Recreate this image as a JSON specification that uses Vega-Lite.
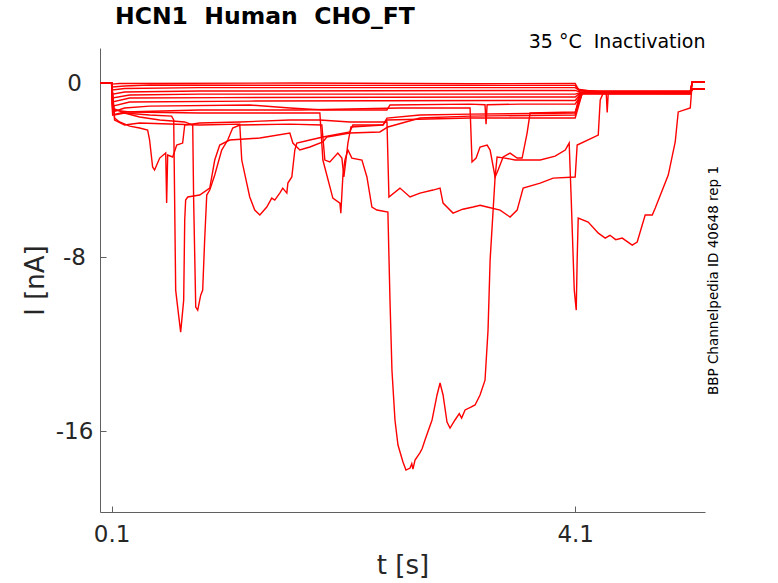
{
  "$schema": "https://vega.github.io/schema/vega-lite/v6.json",
  "width": 605,
  "height": 464,
  "autosize": {"type": "none"},
  "padding": {"left": 100, "top": 48, "right": 73, "bottom": 71},
  "background": "white",
  "title": {
    "text": "HCN1\u00a0\u00a0Human\u00a0\u00a0CHO_FT",
    "anchor": "start",
    "frame": "group",
    "dx": 15,
    "font": "DejaVu Sans",
    "fontSize": 23.5,
    "fontWeight": "bold",
    "color": "black",
    "offset": 4
  },
  "config": {
    "view": {"stroke": null},
    "axis": {"grid": false, "labelFont": "DejaVu Sans", "titleFont": "DejaVu Sans", "titleFontWeight": "normal"}
  },
  "data": {
    "values": [
      {"trace": "F1", "t": 0, "i": 0}, {"trace": "F1", "t": 0.1, "i": 0}, {"trace": "F1", "t": 0.104, "i": -0.05}, {"trace": "F1", "t": 0.169, "i": -0.02}, {"trace": "F1", "t": 1.724, "i": 0}, {"trace": "F1", "t": 3.2, "i": -0.03}, {"trace": "F1", "t": 4.1, "i": -0.02}, {"trace": "F1", "t": 4.126, "i": -0.28}, {"trace": "F1", "t": 4.23, "i": -0.37}, {"trace": "F1", "t": 5.093, "i": -0.37}, {"trace": "F1", "t": 5.11, "i": 0.05}, {"trace": "F1", "t": 5.22, "i": 0.05},

      {"trace": "F2", "t": 0, "i": 0}, {"trace": "F2", "t": 0.1, "i": 0}, {"trace": "F2", "t": 0.109, "i": -0.18}, {"trace": "F2", "t": 0.212, "i": -0.14}, {"trace": "F2", "t": 0.428, "i": -0.09}, {"trace": "F2", "t": 2.2, "i": -0.11}, {"trace": "F2", "t": 4.1, "i": -0.11}, {"trace": "F2", "t": 4.135, "i": -0.32}, {"trace": "F2", "t": 4.316, "i": -0.39}, {"trace": "F2", "t": 5.093, "i": -0.39}, {"trace": "F2", "t": 5.11, "i": 0.05}, {"trace": "F2", "t": 5.22, "i": 0.05},

      {"trace": "F3", "t": 0, "i": 0}, {"trace": "F3", "t": 0.1, "i": 0}, {"trace": "F3", "t": 0.109, "i": -0.32}, {"trace": "F3", "t": 0.212, "i": -0.25}, {"trace": "F3", "t": 0.86, "i": -0.21}, {"trace": "F3", "t": 4.1, "i": -0.21}, {"trace": "F3", "t": 4.143, "i": -0.37}, {"trace": "F3", "t": 4.316, "i": -0.41}, {"trace": "F3", "t": 5.093, "i": -0.41}, {"trace": "F3", "t": 5.11, "i": -0.28}, {"trace": "F3", "t": 5.22, "i": -0.28},

      {"trace": "F4", "t": 0, "i": 0}, {"trace": "F4", "t": 0.1, "i": 0}, {"trace": "F4", "t": 0.109, "i": -0.51}, {"trace": "F4", "t": 0.212, "i": -0.41}, {"trace": "F4", "t": 0.86, "i": -0.37}, {"trace": "F4", "t": 4.1, "i": -0.34}, {"trace": "F4", "t": 4.143, "i": -0.41}, {"trace": "F4", "t": 5.093, "i": -0.44}, {"trace": "F4", "t": 5.11, "i": -0.28}, {"trace": "F4", "t": 5.22, "i": -0.28},

      {"trace": "F5", "t": 0, "i": 0}, {"trace": "F5", "t": 0.1, "i": 0}, {"trace": "F5", "t": 0.109, "i": -0.69}, {"trace": "F5", "t": 0.256, "i": -0.55}, {"trace": "F5", "t": 0.86, "i": -0.51}, {"trace": "F5", "t": 4.1, "i": -0.51}, {"trace": "F5", "t": 4.143, "i": -0.44}, {"trace": "F5", "t": 5.093, "i": -0.44}, {"trace": "F5", "t": 5.11, "i": 0.05}, {"trace": "F5", "t": 5.22, "i": 0.05},

      {"trace": "F6", "t": 0, "i": 0}, {"trace": "F6", "t": 0.1, "i": 0}, {"trace": "F6", "t": 0.109, "i": -0.87}, {"trace": "F6", "t": 0.256, "i": -0.69}, {"trace": "F6", "t": 1.033, "i": -0.67}, {"trace": "F6", "t": 4.1, "i": -0.64}, {"trace": "F6", "t": 4.143, "i": -0.46}, {"trace": "F6", "t": 5.093, "i": -0.46}, {"trace": "F6", "t": 5.11, "i": -0.28}, {"trace": "F6", "t": 5.22, "i": -0.28},

      {"trace": "F7", "t": 0, "i": 0}, {"trace": "F7", "t": 0.1, "i": 0}, {"trace": "F7", "t": 0.109, "i": -1.06}, {"trace": "F7", "t": 0.256, "i": -0.87}, {"trace": "F7", "t": 1.292, "i": -0.83}, {"trace": "F7", "t": 4.1, "i": -0.8}, {"trace": "F7", "t": 4.152, "i": -0.46}, {"trace": "F7", "t": 4.368, "i": -0.48}, {"trace": "F7", "t": 4.376, "i": -1.35}, {"trace": "F7", "t": 4.385, "i": -0.48}, {"trace": "F7", "t": 5.093, "i": -0.48}, {"trace": "F7", "t": 5.11, "i": 0.05}, {"trace": "F7", "t": 5.22, "i": 0.05},

      {"trace": "M1", "t": 0, "i": 0}, {"trace": "M1", "t": 0.1, "i": 0}, {"trace": "M1", "t": 0.109, "i": -1.33}, {"trace": "M1", "t": 0.212, "i": -1.15}, {"trace": "M1", "t": 0.428, "i": -1.06}, {"trace": "M1", "t": 1.292, "i": -1.01}, {"trace": "M1", "t": 1.638, "i": -1.15}, {"trace": "M1", "t": 1.923, "i": -1.24}, {"trace": "M1", "t": 2.476, "i": -1.24}, {"trace": "M1", "t": 2.502, "i": -1.01}, {"trace": "M1", "t": 3.193, "i": -0.97}, {"trace": "M1", "t": 3.322, "i": -1.0}, {"trace": "M1", "t": 3.331, "i": -1.89}, {"trace": "M1", "t": 3.34, "i": -1.0}, {"trace": "M1", "t": 3.625, "i": -0.97}, {"trace": "M1", "t": 4.1, "i": -0.97}, {"trace": "M1", "t": 4.16, "i": -0.46}, {"trace": "M1", "t": 5.093, "i": -0.48}, {"trace": "M1", "t": 5.11, "i": -0.28}, {"trace": "M1", "t": 5.22, "i": -0.28},

      {"trace": "M2", "t": 0, "i": 0}, {"trace": "M2", "t": 0.1, "i": 0}, {"trace": "M2", "t": 0.109, "i": -1.47}, {"trace": "M2", "t": 0.212, "i": -1.33}, {"trace": "M2", "t": 0.86, "i": -1.24}, {"trace": "M2", "t": 1.724, "i": -1.24}, {"trace": "M2", "t": 2.588, "i": -1.15}, {"trace": "M2", "t": 3.193, "i": -1.15}, {"trace": "M2", "t": 3.21, "i": -3.63}, {"trace": "M2", "t": 3.245, "i": -3.45}, {"trace": "M2", "t": 3.279, "i": -2.94}, {"trace": "M2", "t": 3.34, "i": -2.85}, {"trace": "M2", "t": 3.366, "i": -3.08}, {"trace": "M2", "t": 3.409, "i": -4.32}, {"trace": "M2", "t": 3.435, "i": -4.0}, {"trace": "M2", "t": 3.478, "i": -3.4}, {"trace": "M2", "t": 3.538, "i": -3.22}, {"trace": "M2", "t": 3.599, "i": -3.45}, {"trace": "M2", "t": 3.642, "i": -3.45}, {"trace": "M2", "t": 3.685, "i": -2.3}, {"trace": "M2", "t": 3.711, "i": -1.38}, {"trace": "M2", "t": 4.1, "i": -1.33}, {"trace": "M2", "t": 4.16, "i": -0.51}, {"trace": "M2", "t": 5.093, "i": -0.51}, {"trace": "M2", "t": 5.11, "i": -0.28}, {"trace": "M2", "t": 5.22, "i": -0.28},

      {"trace": "E3", "t": 0, "i": 0}, {"trace": "E3", "t": 0.1, "i": 0}, {"trace": "E3", "t": 0.126, "i": -1.61}, {"trace": "E3", "t": 0.169, "i": -1.79}, {"trace": "E3", "t": 0.256, "i": -1.98}, {"trace": "E3", "t": 0.342, "i": -2.07}, {"trace": "E3", "t": 0.411, "i": -2.16}, {"trace": "E3", "t": 0.428, "i": -2.62}, {"trace": "E3", "t": 0.454, "i": -3.86}, {"trace": "E3", "t": 0.471, "i": -4.0}, {"trace": "E3", "t": 0.515, "i": -3.45}, {"trace": "E3", "t": 0.567, "i": -3.22}, {"trace": "E3", "t": 0.575, "i": -5.52}, {"trace": "E3", "t": 0.584, "i": -3.31}, {"trace": "E3", "t": 0.627, "i": -3.4}, {"trace": "E3", "t": 0.662, "i": -2.85}, {"trace": "E3", "t": 0.713, "i": -2.76}, {"trace": "E3", "t": 0.731, "i": -1.93}, {"trace": "E3", "t": 0.86, "i": -1.84}, {"trace": "E3", "t": 1.206, "i": -1.79}, {"trace": "E3", "t": 1.638, "i": -1.7}, {"trace": "E3", "t": 1.897, "i": -1.7}, {"trace": "E3", "t": 2.156, "i": -1.79}, {"trace": "E3", "t": 2.476, "i": -1.79}, {"trace": "E3", "t": 2.493, "i": -5.24}, {"trace": "E3", "t": 2.588, "i": -4.83}, {"trace": "E3", "t": 2.675, "i": -5.24}, {"trace": "E3", "t": 2.761, "i": -5.06}, {"trace": "E3", "t": 2.873, "i": -4.92}, {"trace": "E3", "t": 2.934, "i": -4.83}, {"trace": "E3", "t": 2.96, "i": -5.52}, {"trace": "E3", "t": 3.046, "i": -5.98}, {"trace": "E3", "t": 3.13, "i": -5.8}, {"trace": "E3", "t": 3.219, "i": -5.7}, {"trace": "E3", "t": 3.28, "i": -5.62}, {"trace": "E3", "t": 3.34, "i": -5.7}, {"trace": "E3", "t": 3.452, "i": -5.84}, {"trace": "E3", "t": 3.538, "i": -6.16}, {"trace": "E3", "t": 3.599, "i": -5.84}, {"trace": "E3", "t": 3.651, "i": -4.83}, {"trace": "E3", "t": 3.798, "i": -4.6}, {"trace": "E3", "t": 3.91, "i": -4.37}, {"trace": "E3", "t": 4.1, "i": -4.32}, {"trace": "E3", "t": 4.117, "i": -2.85}, {"trace": "E3", "t": 4.299, "i": -2.39}, {"trace": "E3", "t": 4.316, "i": -0.78}, {"trace": "E3", "t": 4.342, "i": -0.46}, {"trace": "E3", "t": 5.093, "i": -0.46}, {"trace": "E3", "t": 5.11, "i": 0.05}, {"trace": "E3", "t": 5.22, "i": 0.05},

      {"trace": "E4", "t": 0, "i": 0}, {"trace": "E4", "t": 0.1, "i": 0}, {"trace": "E4", "t": 0.126, "i": -1.7}, {"trace": "E4", "t": 0.212, "i": -1.93}, {"trace": "E4", "t": 0.342, "i": -1.84}, {"trace": "E4", "t": 0.86, "i": -1.93}, {"trace": "E4", "t": 1.206, "i": -1.89}, {"trace": "E4", "t": 1.223, "i": -3.54}, {"trace": "E4", "t": 1.266, "i": -4.6}, {"trace": "E4", "t": 1.292, "i": -5.24}, {"trace": "E4", "t": 1.335, "i": -5.84}, {"trace": "E4", "t": 1.379, "i": -6.07}, {"trace": "E4", "t": 1.439, "i": -5.7}, {"trace": "E4", "t": 1.482, "i": -5.29}, {"trace": "E4", "t": 1.508, "i": -5.38}, {"trace": "E4", "t": 1.551, "i": -5.06}, {"trace": "E4", "t": 1.577, "i": -4.83}, {"trace": "E4", "t": 1.612, "i": -5.06}, {"trace": "E4", "t": 1.621, "i": -4.6}, {"trace": "E4", "t": 1.655, "i": -4.32}, {"trace": "E4", "t": 1.681, "i": -3.08}, {"trace": "E4", "t": 1.698, "i": -2.76}, {"trace": "E4", "t": 1.811, "i": -2.62}, {"trace": "E4", "t": 1.923, "i": -2.48}, {"trace": "E4", "t": 2.156, "i": -2.25}, {"trace": "E4", "t": 2.182, "i": -1.93}, {"trace": "E4", "t": 2.441, "i": -1.93}, {"trace": "E4", "t": 2.476, "i": -1.61}, {"trace": "E4", "t": 2.761, "i": -1.47}, {"trace": "E4", "t": 3.193, "i": -1.43}, {"trace": "E4", "t": 4.1, "i": -1.38}, {"trace": "E4", "t": 4.143, "i": -0.46}, {"trace": "E4", "t": 5.093, "i": -0.46}, {"trace": "E4", "t": 5.11, "i": -0.28}, {"trace": "E4", "t": 5.22, "i": -0.28},

      {"trace": "E1", "t": 0, "i": 0}, {"trace": "E1", "t": 0.1, "i": 0}, {"trace": "E1", "t": 0.126, "i": -1.47}, {"trace": "E1", "t": 0.212, "i": -1.38}, {"trace": "E1", "t": 0.428, "i": -1.47}, {"trace": "E1", "t": 0.618, "i": -1.52}, {"trace": "E1", "t": 0.636, "i": -1.7}, {"trace": "E1", "t": 0.653, "i": -9.52}, {"trace": "E1", "t": 0.67, "i": -10.3}, {"trace": "E1", "t": 0.696, "i": -11.45}, {"trace": "E1", "t": 0.722, "i": -9.98}, {"trace": "E1", "t": 0.731, "i": -6.3}, {"trace": "E1", "t": 0.739, "i": -5.38}, {"trace": "E1", "t": 0.757, "i": -5.24}, {"trace": "E1", "t": 0.86, "i": -5.15}, {"trace": "E1", "t": 0.947, "i": -4.83}, {"trace": "E1", "t": 0.99, "i": -3.54}, {"trace": "E1", "t": 1.033, "i": -2.85}, {"trace": "E1", "t": 1.119, "i": -2.62}, {"trace": "E1", "t": 1.379, "i": -2.53}, {"trace": "E1", "t": 1.638, "i": -2.3}, {"trace": "E1", "t": 1.664, "i": -2.76}, {"trace": "E1", "t": 1.724, "i": -3.08}, {"trace": "E1", "t": 1.811, "i": -2.94}, {"trace": "E1", "t": 1.923, "i": -2.71}, {"trace": "E1", "t": 1.957, "i": -2.48}, {"trace": "E1", "t": 2.156, "i": -2.3}, {"trace": "E1", "t": 2.415, "i": -2.25}, {"trace": "E1", "t": 2.484, "i": -2.02}, {"trace": "E1", "t": 2.761, "i": -1.61}, {"trace": "E1", "t": 3.193, "i": -1.52}, {"trace": "E1", "t": 4.1, "i": -1.47}, {"trace": "E1", "t": 4.143, "i": -0.46}, {"trace": "E1", "t": 5.093, "i": -0.46}, {"trace": "E1", "t": 5.11, "i": 0.05}, {"trace": "E1", "t": 5.22, "i": 0.05},

      {"trace": "E2", "t": 0, "i": 0}, {"trace": "E2", "t": 0.1, "i": 0}, {"trace": "E2", "t": 0.109, "i": -1.15}, {"trace": "E2", "t": 0.212, "i": -1.38}, {"trace": "E2", "t": 0.342, "i": -1.56}, {"trace": "E2", "t": 0.515, "i": -1.7}, {"trace": "E2", "t": 0.731, "i": -1.79}, {"trace": "E2", "t": 0.8, "i": -1.93}, {"trace": "E2", "t": 0.808, "i": -5.38}, {"trace": "E2", "t": 0.826, "i": -10.3}, {"trace": "E2", "t": 0.843, "i": -10.44}, {"trace": "E2", "t": 0.869, "i": -9.75}, {"trace": "E2", "t": 0.886, "i": -9.52}, {"trace": "E2", "t": 0.903, "i": -7.22}, {"trace": "E2", "t": 0.921, "i": -5.15}, {"trace": "E2", "t": 0.947, "i": -4.92}, {"trace": "E2", "t": 0.99, "i": -4.23}, {"trace": "E2", "t": 1.05, "i": -3.08}, {"trace": "E2", "t": 1.102, "i": -2.62}, {"trace": "E2", "t": 1.145, "i": -2.07}, {"trace": "E2", "t": 1.206, "i": -1.93}, {"trace": "E2", "t": 1.638, "i": -1.89}, {"trace": "E2", "t": 1.914, "i": -1.93}, {"trace": "E2", "t": 1.94, "i": -3.54}, {"trace": "E2", "t": 1.983, "i": -3.63}, {"trace": "E2", "t": 2.052, "i": -3.22}, {"trace": "E2", "t": 2.087, "i": -3.45}, {"trace": "E2", "t": 2.104, "i": -4.32}, {"trace": "E2", "t": 2.122, "i": -3.54}, {"trace": "E2", "t": 2.139, "i": -2.76}, {"trace": "E2", "t": 2.165, "i": -2.02}, {"trace": "E2", "t": 2.441, "i": -1.93}, {"trace": "E2", "t": 2.476, "i": -1.7}, {"trace": "E2", "t": 3.193, "i": -1.61}, {"trace": "E2", "t": 4.1, "i": -1.61}, {"trace": "E2", "t": 4.16, "i": -0.48}, {"trace": "E2", "t": 5.093, "i": -0.48}, {"trace": "E2", "t": 5.11, "i": -0.28}, {"trace": "E2", "t": 5.22, "i": -0.28},

      {"trace": "E5", "t": 0, "i": 0}, {"trace": "E5", "t": 0.1, "i": 0}, {"trace": "E5", "t": 0.109, "i": -1.24}, {"trace": "E5", "t": 0.256, "i": -1.33}, {"trace": "E5", "t": 0.86, "i": -1.38}, {"trace": "E5", "t": 1.897, "i": -1.38}, {"trace": "E5", "t": 1.923, "i": -3.54}, {"trace": "E5", "t": 2.009, "i": -5.29}, {"trace": "E5", "t": 2.07, "i": -5.52}, {"trace": "E5", "t": 2.078, "i": -5.98}, {"trace": "E5", "t": 2.096, "i": -4.23}, {"trace": "E5", "t": 2.113, "i": -3.54}, {"trace": "E5", "t": 2.139, "i": -3.08}, {"trace": "E5", "t": 2.173, "i": -3.45}, {"trace": "E5", "t": 2.26, "i": -3.54}, {"trace": "E5", "t": 2.303, "i": -4.32}, {"trace": "E5", "t": 2.346, "i": -5.7}, {"trace": "E5", "t": 2.389, "i": -5.84}, {"trace": "E5", "t": 2.484, "i": -5.93}, {"trace": "E5", "t": 2.502, "i": -9.98}, {"trace": "E5", "t": 2.519, "i": -13.2}, {"trace": "E5", "t": 2.545, "i": -15.49}, {"trace": "E5", "t": 2.571, "i": -16.64}, {"trace": "E5", "t": 2.614, "i": -17.42}, {"trace": "E5", "t": 2.64, "i": -17.79}, {"trace": "E5", "t": 2.675, "i": -17.7}, {"trace": "E5", "t": 2.69, "i": -17.5}, {"trace": "E5", "t": 2.7, "i": -17.75}, {"trace": "E5", "t": 2.718, "i": -17.33}, {"trace": "E5", "t": 2.76, "i": -17.0}, {"trace": "E5", "t": 2.78, "i": -16.8}, {"trace": "E5", "t": 2.804, "i": -16.41}, {"trace": "E5", "t": 2.865, "i": -15.49}, {"trace": "E5", "t": 2.908, "i": -14.34}, {"trace": "E5", "t": 2.934, "i": -13.79}, {"trace": "E5", "t": 2.96, "i": -14.34}, {"trace": "E5", "t": 2.994, "i": -15.59}, {"trace": "E5", "t": 3.02, "i": -15.86}, {"trace": "E5", "t": 3.063, "i": -15.49}, {"trace": "E5", "t": 3.1, "i": -15.2}, {"trace": "E5", "t": 3.12, "i": -15.4}, {"trace": "E5", "t": 3.15, "i": -15.03}, {"trace": "E5", "t": 3.2, "i": -14.9}, {"trace": "E5", "t": 3.236, "i": -14.8}, {"trace": "E5", "t": 3.279, "i": -14.34}, {"trace": "E5", "t": 3.322, "i": -13.66}, {"trace": "E5", "t": 3.348, "i": -11.36}, {"trace": "E5", "t": 3.366, "i": -8.14}, {"trace": "E5", "t": 3.409, "i": -4.32}, {"trace": "E5", "t": 3.426, "i": -3.4}, {"trace": "E5", "t": 3.495, "i": -3.45}, {"trace": "E5", "t": 3.581, "i": -3.54}, {"trace": "E5", "t": 3.798, "i": -3.54}, {"trace": "E5", "t": 3.927, "i": -3.36}, {"trace": "E5", "t": 4.014, "i": -3.08}, {"trace": "E5", "t": 4.048, "i": -2.76}, {"trace": "E5", "t": 4.066, "i": -5.38}, {"trace": "E5", "t": 4.092, "i": -9.52}, {"trace": "E5", "t": 4.109, "i": -10.44}, {"trace": "E5", "t": 4.117, "i": -8.14}, {"trace": "E5", "t": 4.126, "i": -6.21}, {"trace": "E5", "t": 4.212, "i": -6.39}, {"trace": "E5", "t": 4.3, "i": -6.9}, {"trace": "E5", "t": 4.359, "i": -7.13}, {"trace": "E5", "t": 4.4, "i": -7.0}, {"trace": "E5", "t": 4.45, "i": -7.2}, {"trace": "E5", "t": 4.506, "i": -7.13}, {"trace": "E5", "t": 4.592, "i": -7.45}, {"trace": "E5", "t": 4.635, "i": -7.31}, {"trace": "E5", "t": 4.704, "i": -6.07}, {"trace": "E5", "t": 4.765, "i": -6.07}, {"trace": "E5", "t": 4.791, "i": -5.75}, {"trace": "E5", "t": 4.903, "i": -4.23}, {"trace": "E5", "t": 4.963, "i": -2.71}, {"trace": "E5", "t": 4.989, "i": -1.33}, {"trace": "E5", "t": 5.093, "i": -1.15}, {"trace": "E5", "t": 5.11, "i": 0.05}, {"trace": "E5", "t": 5.22, "i": 0.05}
    ]
  },
  "layer": [
    {
      "mark": {"type": "line", "color": "#ff0000", "strokeWidth": 1.4},
      "encoding": {
        "x": {
          "field": "t",
          "type": "quantitative",
          "scale": {"domain": [0, 5.22], "nice": false, "zero": false},
          "axis": {
            "orient": "bottom",
            "values": [0.1, 4.1],
            "labelExpr": "'' + datum.value",
            "title": "t [s]",
            "titleFontSize": 26,
            "titleColor": "#262626",
            "titlePadding": 6,
            "labelFontSize": 23,
            "labelColor": "#262626",
            "labelPadding": 17,
            "labelFlush": false,
            "tickSize": -6,
            "tickColor": "#606060",
            "domainColor": "#606060"
          }
        },
        "y": {
          "field": "i",
          "type": "quantitative",
          "scale": {"domain": [-19.72, 1.61], "nice": false, "zero": false},
          "axis": {
            "orient": "left",
            "values": [0, -8, -16],
            "labelExpr": "'' + datum.value",
            "title": "I [nA]",
            "titleFontSize": 26,
            "titleColor": "#262626",
            "titlePadding": 7,
            "labelFontSize": 23,
            "labelColor": "#262626",
            "labelAlign": "center",
            "labelPadding": 32,
            "labelFlush": false,
            "tickSize": -6,
            "tickColor": "#606060",
            "domainColor": "#606060"
          }
        },
        "detail": {"field": "trace", "type": "nominal"}
      }
    },
    {
      "mark": {"type": "point", "opacity": 0},
      "encoding": {
        "x": {
          "field": "t",
          "type": "quantitative",
          "axis": {
            "orient": "top",
            "title": "35 °C\u00a0\u00a0Inactivation",
            "titleAnchor": "end",
            "titleFontSize": 19,
            "titleColor": "black",
            "titleBaseline": "alphabetic",
            "titlePadding": 1,
            "domain": false,
            "ticks": false,
            "labels": false
          }
        },
        "y": {
          "field": "i",
          "type": "quantitative",
          "axis": {
            "orient": "right",
            "title": "BBP Channelpedia ID 40648 rep 1",
            "titleAngle": 270,
            "titleFontSize": 13.5,
            "titleColor": "black",
            "titlePadding": 15,
            "domain": false,
            "ticks": false,
            "labels": false
          }
        }
      }
    }
  ],
  "resolve": {"axis": {"x": "independent", "y": "independent"}}
}
